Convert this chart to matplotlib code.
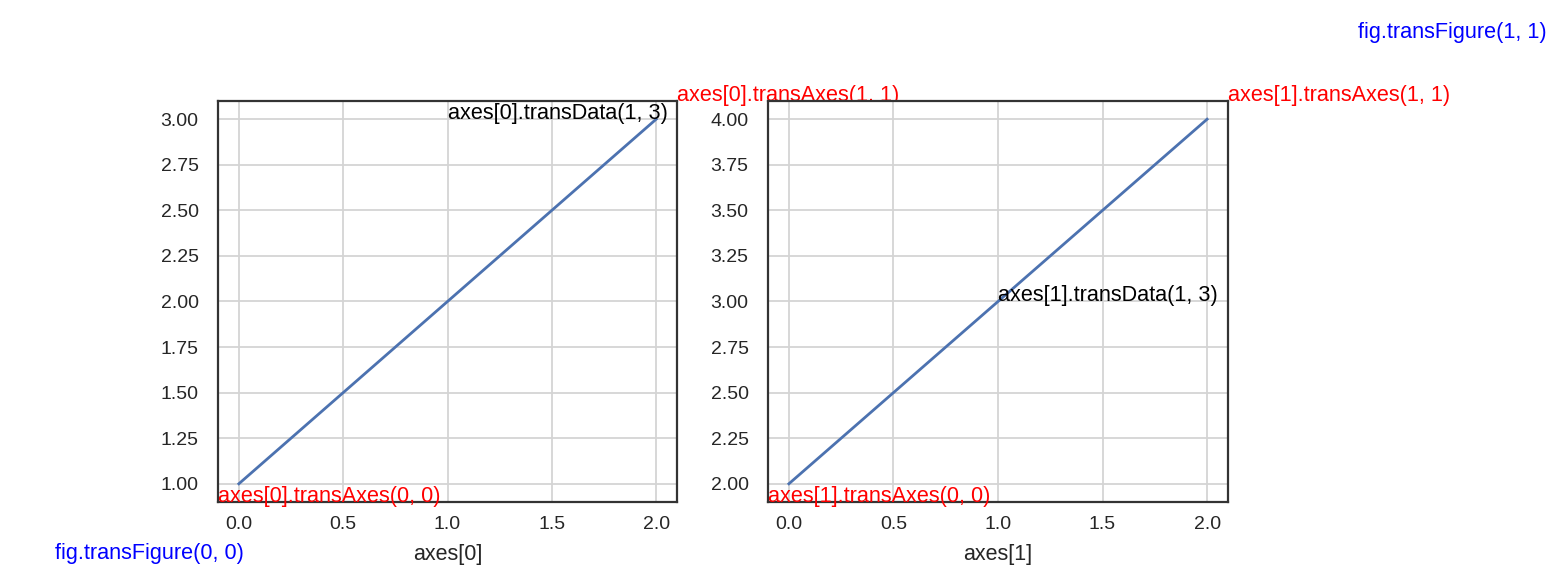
import matplotlib
matplotlib.use("Agg")
import matplotlib.pyplot as plt

# Data for the two lines
x_vals = [0, 1, 2]
y_left = [1, 2, 3]
y_right = [2, 3, 4]
x_ticks = [0.0, 0.5, 1.0, 1.5, 2.0]
y_ticks_left = [1.00, 1.25, 1.50, 1.75, 2.00, 2.25, 2.50, 2.75, 3.00]
y_ticks_right = [2.00, 2.25, 2.50, 2.75, 3.00, 3.25, 3.50, 3.75, 4.00]
labels = ["axes[0]", "axes[1]"]

plt.rcParams['font.family'] = ['Liberation Sans', 'DejaVu Sans']
plt.rcParams['axes.edgecolor'] = '0.2'
plt.rcParams['axes.linewidth'] = 1.6
plt.rcParams['grid.color'] = '0.83'
plt.rcParams['grid.linewidth'] = 1.3
plt.rcParams['xtick.color'] = '0.15'
plt.rcParams['ytick.color'] = '0.15'
plt.rcParams['axes.labelcolor'] = '0.15'

W, H = 1559, 584
fig = plt.figure(figsize=(W / 100, H / 100), dpi=100)


def frac(px_left, px_top, px_right, px_bottom):
    # pixel box (from top-left) -> figure fraction [left, bottom, width, height]
    return [px_left / W, (H - px_bottom) / H, (px_right - px_left) / W, (px_bottom - px_top) / H]


ax0 = fig.add_axes(frac(218, 101, 677, 502))
ax1 = fig.add_axes(frac(768, 101, 1228, 502))
axes = [ax0, ax1]

for ax, ys, yt, lab in zip(axes, [y_left, y_right], [y_ticks_left, y_ticks_right], labels):
    ax.plot(x_vals, ys, color='#4c72b0', lw=2.0)
    ax.set_xticks(x_ticks)
    ax.set_yticks(yt)
    ax.xaxis.set_major_formatter(matplotlib.ticker.FormatStrFormatter('%.1f'))
    ax.yaxis.set_major_formatter(matplotlib.ticker.FormatStrFormatter('%.2f'))
    ax.grid(True)
    ax.tick_params(length=0, labelsize=14)
    ax.tick_params(axis='y', pad=14)
    ax.tick_params(axis='x', pad=10)
    ax.set_xlabel(lab, fontsize=15.5, labelpad=8)
    ax.set_axisbelow(True)

# annotations at transform corners
for i, ax in enumerate(axes):
    ax.text(0, 0, f"axes[{i}].transAxes(0, 0)", transform=ax.transAxes, color='red', fontsize=15.6)
    ax.text(1, 1, f"axes[{i}].transAxes(1, 1)", transform=ax.transAxes, color='red', fontsize=15.6)
    ax.text(1, 3, f"axes[{i}].transData(1, 3)", transform=ax.transData, color='black', fontsize=15.6)

# the original figure area sat inside the saved image
fx0, fy0 = 55 / W, (H - 559) / H
fx1, fy1 = 1358 / W, (H - 38) / H
fig.text(fx0, fy0, "fig.transFigure(0, 0)", color='blue', fontsize=15.6)
fig.text(fx1, fy1, "fig.transFigure(1, 1)", color='blue', fontsize=15.6)

fig.savefig("out.png", dpi=100)
